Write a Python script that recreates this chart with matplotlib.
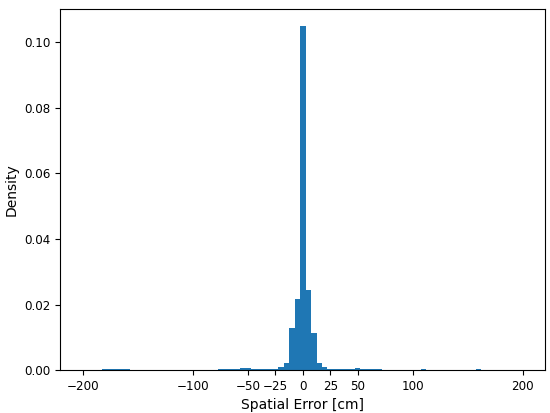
import matplotlib
matplotlib.use("Agg")
import matplotlib.pyplot as plt
import numpy as np

# histogram of spatial error, already normalised as density (bin width 5 cm)
bin_centers = np.arange(-200, 205, 5)
density = [
    0.00005, 0.00005, 0.00005, 0.0001, 0.0002, 0.0003, 0.0004, 0.0003, 0.0002,    # -200 .. -160
    0.0001, 0.0001, 0.00005, 0.00005, 0.0001, 0.00005, 0.00005, 0.0001, 0.0001,   # -155 .. -115
    0.0001, 0.0001, 0.0001, 0.0001, 0.00015, 0.0001, 0.00015, 0.0002, 0.0002,     # -110 .. -70
    0.0003, 0.0004, 0.0005, 0.0005, 0.0004, 0.0003, 0.0003, 0.0002, 0.0004,       # -65 .. -25
    0.0010, 0.0021, 0.0128, 0.0218, 0.1049, 0.0244, 0.0114, 0.0023, 0.0010,       # -20 .. 20
    0.0004, 0.0003, 0.0003, 0.0003, 0.0004, 0.0005, 0.0004, 0.0003, 0.0002,       # 25 .. 65
    0.0002, 0.00015, 0.0001, 0.0001, 0.0001, 0.0001, 0.0001, 0.00015, 0.0002,     # 70 .. 110
    0.0001, 0.0001, 0.0001, 0.00005, 0.00005, 0.00005, 0.0001, 0.0001, 0.0001,    # 115 .. 155
    0.0002, 0.0001, 0.0001, 0.00005, 0.00005, 0.00005, 0.00005, 0.00005, 0.00005, # 160 .. 200
]
bin_edges = np.append(bin_centers - 2.5, bin_centers[-1] + 2.5)
xticks = [-200, -100, -50, -25, 0, 25, 50, 100, 200]

fig, ax = plt.subplots(figsize=(5.5, 4.13), dpi=100)
fig.subplots_adjust(left=0.109, right=0.991, top=0.978, bottom=0.104)

ax.hist(bin_centers, bins=bin_edges, weights=density, color="#1f77b4")

ax.set_xticks(xticks)
ax.set_xlim(-221, 220.5)
ax.tick_params(labelsize=8.6, length=3.5)
ax.set_xlabel("Spatial Error [cm]", fontsize=10)
ax.set_ylabel("Density", fontsize=10)

fig.savefig("out.png", dpi=100)
